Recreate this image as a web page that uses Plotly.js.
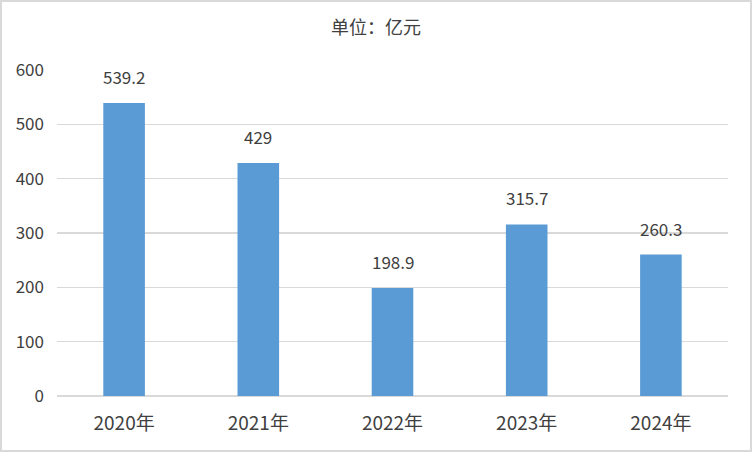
<!DOCTYPE html>
<html>
<head>
<meta charset="utf-8">
<script src="https://cdn.plot.ly/plotly-3.0.1.min.js"></script>
<style>
html,body{margin:0;padding:0;background:#fff;}
#wrap{position:relative;width:752px;height:452px;}
#chart{width:752px;height:452px;}
#frame{position:absolute;left:0;top:0;width:752px;height:452px;box-sizing:border-box;border:2px solid #d9d9d9;pointer-events:none;}
</style>
</head>
<body>
<div id="wrap"><div id="chart"></div><div id="frame"></div></div>
<script>
const categories = ["2020年", "2021年", "2022年", "2023年", "2024年"];
const values = [539.2, 429, 198.9, 315.7, 260.3];
const valueLabels = ["539.2", "429", "198.9", "315.7", "260.3"];
const yTicks = [0, 100, 200, 300, 400, 500, 600];

const fontFam = '"Microsoft YaHei", "Noto Sans CJK SC", sans-serif';
const trace = {
  type: 'bar',
  x: categories,
  y: values,
  marker: {color: '#5b9bd5'},
  width: 0.31,
  hoverinfo: 'none'
};
const annotations = categories.map((c, i) => ({
  x: c, y: values[i], xref: 'x', yref: 'y',
  text: valueLabels[i], showarrow: false,
  yanchor: 'bottom', yshift: 12,
  font: {family: fontFam, size: 17, color: '#404040'}
}));
const layout = {
  width: 752, height: 452,
  margin: {l: 57, r: 24, t: 70, b: 56},
  paper_bgcolor: '#ffffff', plot_bgcolor: '#ffffff',
  title: {text: '单位：亿元', x: 0.5, xanchor: 'center', y: 0.938, yanchor: 'middle',
          font: {family: fontFam, size: 18, color: '#404040'}},
  font: {family: fontFam, color: '#404040', size: 16},
  xaxis: {showgrid: false, zeroline: false, showline: false, ticks: '',
          ticklabelstandoff: 14,
          tickfont: {family: fontFam, size: 19, color: '#404040'}},
  yaxis: {range: [0, 600], tickvals: yTicks, ticktext: yTicks.map(String),
          showgrid: true, gridcolor: '#d9d9d9', gridwidth: 1.5, zeroline: true,
          zerolinecolor: '#d9d9d9', zerolinewidth: 1.5, showline: false, ticks: '',
          ticklabelstandoff: 12,
          tickfont: {family: fontFam, size: 17, color: '#404040'}},
  annotations: annotations,
  showlegend: false
};
Plotly.newPlot('chart', [trace], layout, {displayModeBar: false, staticPlot: true});
</script>
</body>
</html>
